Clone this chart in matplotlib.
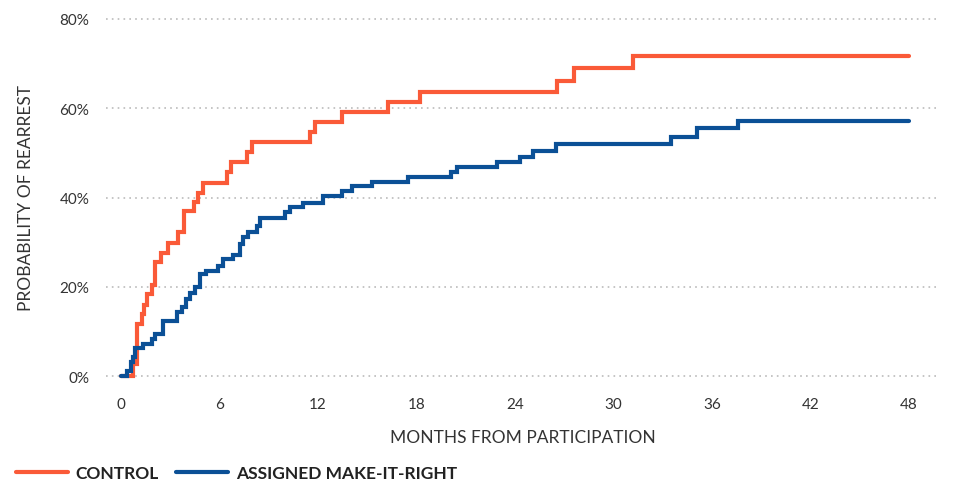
import matplotlib
matplotlib.use('Agg')
import matplotlib.pyplot as plt

# ================= ДАННЫЕ =================
# Моменты ступенек (месяцы) и вероятность повторного ареста (%) после ступеньки
control_months = [0, 0.73, 0.98, 1.30, 1.40, 1.60, 1.89, 2.10, 2.44, 2.85, 3.46, 3.86,
                  4.47, 4.71, 5.00, 6.50, 6.70, 7.70, 8.00, 11.5, 11.8, 13.5, 16.3,
                  18.2, 26.6, 27.6, 31.2, 48]
control_pct = [0, 2.7, 11.7, 13.9, 16.0, 18.4, 20.4, 25.6, 27.6, 29.8, 32.2, 37.0,
               39.0, 41.0, 43.3, 45.7, 48.0, 50.2, 52.5, 54.7, 57.0, 59.2, 61.4,
               63.7, 66.1, 69.0, 71.8, 71.8]

mir_months = [0, 0.37, 0.61, 0.73, 0.85, 1.34, 1.89, 2.07, 2.56, 3.41, 3.72, 3.96,
              4.20, 4.51, 4.82, 5.18, 5.91, 6.22, 6.83, 7.26, 7.44, 7.74, 8.29, 8.48,
              10.0, 10.3, 11.1, 12.3, 13.5, 14.1, 15.3, 17.5, 20.1, 20.5, 22.9, 24.3,
              25.1, 26.5, 33.5, 35.1, 37.6, 48]
mir_pct = [0, 1.1, 3.1, 4.3, 6.3, 7.2, 8.3, 9.4, 12.3, 14.3, 15.5, 17.3,
           18.5, 20.0, 22.9, 23.6, 24.7, 26.2, 27.1, 29.6, 31.2, 32.3, 33.6, 35.5,
           36.8, 37.9, 38.8, 40.4, 41.5, 42.6, 43.5, 44.6, 45.7, 46.9, 48.0, 49.1,
           50.4, 52.0, 53.6, 55.6, 57.2, 57.2]

x_ticks = [0, 6, 12, 18, 24, 30, 36, 42, 48]
y_ticks = [0, 20, 40, 60, 80]
series_labels = ['CONTROL', 'ASSIGNED MAKE-IT-RIGHT']

ORANGE = '#FA5A38'
BLUE = '#0B5096'
TEXT = '#333333'
# ==========================================

plt.rcParams['font.family'] = ['Lato', 'DejaVu Sans']

W, H = 964, 485
fig = plt.figure(figsize=(W / 100, H / 100), dpi=100)
# положение осей в пикселях: сетка от x=106 до 940, 0% на y=377, 80% на y=20
ax = fig.add_axes([106 / W, 1 - 381.5 / H, (940 - 106) / W, (381.5 - 15.5) / H])
ax.set_xlim(-0.9, 49.9)
ax.set_ylim(-1, 81)

for s in ax.spines.values():
    s.set_visible(False)

ax.set_yticks(y_ticks)
ax.yaxis.grid(True, linestyle=(0, (1, 2.5)), color='#BBBBBB', linewidth=1.2)
ax.set_axisbelow(True)
ax.tick_params(length=0, labelsize=11, labelcolor=TEXT)
ax.tick_params(axis='y', pad=12)
ax.tick_params(axis='x', pad=12)
ax.set_xticks(x_ticks)
ax.set_yticklabels([f'{v}%' for v in y_ticks])
ax.set_xticklabels([str(v) for v in x_ticks])

l1, = ax.step(control_months, control_pct, where='post', color=ORANGE, lw=3,
              solid_capstyle='round', solid_joinstyle='miter', label=series_labels[0])
l2, = ax.step(mir_months, mir_pct, where='post', color=BLUE, lw=3,
              solid_capstyle='round', solid_joinstyle='miter', label=series_labels[1])

ax.set_xlabel('MONTHS FROM PARTICIPATION', fontsize=12.5, color=TEXT, labelpad=13)
ax.set_ylabel('PROBABILITY OF REARREST', fontsize=12.5, color=TEXT, labelpad=18)

leg = fig.legend(handles=[l1, l2], loc='center left', bbox_to_anchor=(0.0, 1 - 474 / H),
                 ncol=2, frameon=False, handlelength=3.0, handletextpad=0.45,
                 columnspacing=1.0, prop={'weight': 'bold', 'size': 12.5})
for t in leg.get_texts():
    t.set_color('#222222')

fig.savefig('out.png', dpi=100)
